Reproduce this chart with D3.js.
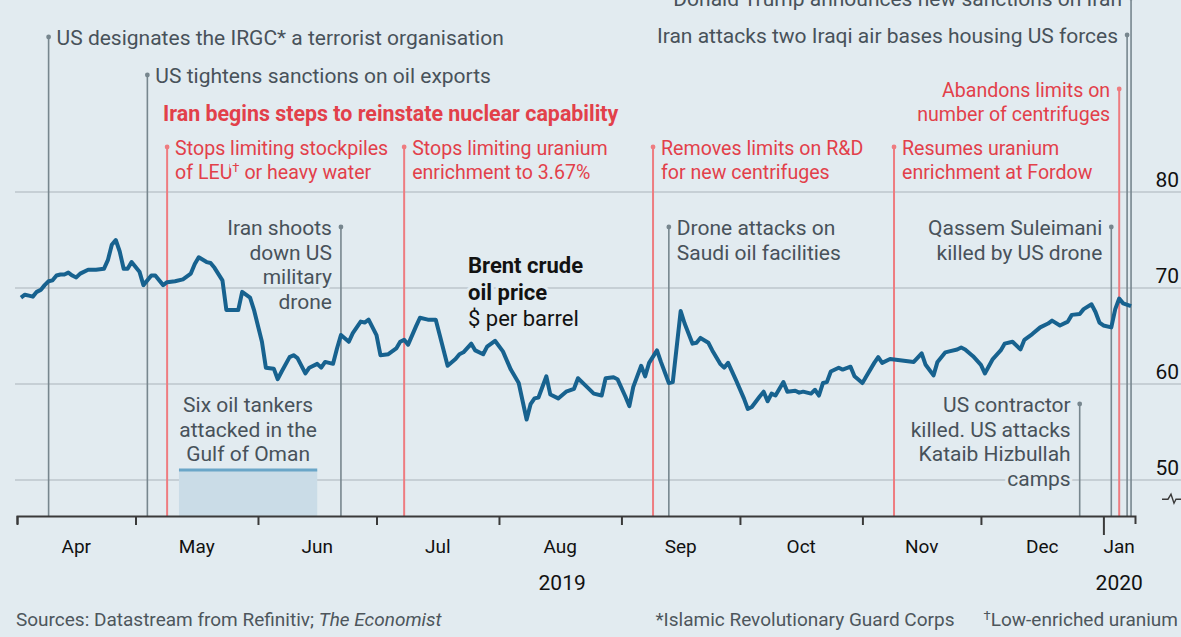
<!DOCTYPE html>
<html>
<head>
<meta charset="utf-8">
<script src="https://cdn.jsdelivr.net/npm/d3@7"></script>
<style>
  body { margin: 0; background: #e2ebf0; }
  svg { display: block; font-family: Roboto, "Noto Sans", sans-serif; }
  .halo { paint-order: stroke; stroke: #e2ebf0; stroke-width: 6px; stroke-linejoin: round; }
</style>
</head>
<body>
<div id="chart"></div>
<script>
// Brent crude oil price, $ per barrel
var dates = [
  "2019-04-02","2019-04-03","2019-04-04","2019-04-05","2019-04-06","2019-04-07","2019-04-08","2019-04-09","2019-04-10",
  "2019-04-11","2019-04-12","2019-04-13","2019-04-14","2019-04-15","2019-04-16","2019-04-17","2019-04-19","2019-04-21",
  "2019-04-23","2019-04-24","2019-04-25","2019-04-26","2019-04-27","2019-04-28","2019-04-29","2019-04-30",
  "2019-05-02","2019-05-03","2019-05-05","2019-05-06","2019-05-08","2019-05-09","2019-05-11","2019-05-13","2019-05-15",
  "2019-05-16","2019-05-17","2019-05-19","2019-05-20","2019-05-21","2019-05-23","2019-05-24","2019-05-25","2019-05-27",
  "2019-05-28","2019-05-30","2019-05-31",
  "2019-06-02","2019-06-03","2019-06-05","2019-06-06","2019-06-07","2019-06-09","2019-06-10","2019-06-11","2019-06-13",
  "2019-06-14","2019-06-16","2019-06-17","2019-06-18","2019-06-20","2019-06-21","2019-06-22","2019-06-24","2019-06-25",
  "2019-06-27","2019-06-28","2019-06-29",
  "2019-07-01","2019-07-02","2019-07-04","2019-07-06","2019-07-07","2019-07-08","2019-07-09","2019-07-11","2019-07-12",
  "2019-07-14","2019-07-16","2019-07-17","2019-07-19","2019-07-21","2019-07-22","2019-07-23","2019-07-25","2019-07-26",
  "2019-07-28","2019-07-29","2019-07-31",
  "2019-08-02","2019-08-04","2019-08-06","2019-08-08","2019-08-09","2019-08-10","2019-08-11","2019-08-13","2019-08-14",
  "2019-08-16","2019-08-18","2019-08-20","2019-08-21","2019-08-23","2019-08-25","2019-08-27","2019-08-28","2019-08-30",
  "2019-08-31",
  "2019-09-02","2019-09-03","2019-09-04","2019-09-06","2019-09-07","2019-09-08","2019-09-10","2019-09-11","2019-09-13",
  "2019-09-14","2019-09-16","2019-09-17","2019-09-19","2019-09-20","2019-09-21","2019-09-23","2019-09-24","2019-09-26",
  "2019-09-27","2019-09-28","2019-09-30",
  "2019-10-02","2019-10-03","2019-10-04","2019-10-06","2019-10-07","2019-10-08","2019-10-09","2019-10-10","2019-10-12",
  "2019-10-13","2019-10-15","2019-10-16","2019-10-17","2019-10-19","2019-10-20","2019-10-21","2019-10-22","2019-10-23",
  "2019-10-24","2019-10-26","2019-10-27","2019-10-29","2019-10-30",
  "2019-11-01","2019-11-02","2019-11-04","2019-11-05","2019-11-06","2019-11-08","2019-11-10","2019-11-12","2019-11-14",
  "2019-11-16","2019-11-17","2019-11-19","2019-11-20","2019-11-22","2019-11-23","2019-11-25","2019-11-26","2019-11-27",
  "2019-11-29",
  "2019-12-01","2019-12-02","2019-12-04","2019-12-06","2019-12-07","2019-12-09","2019-12-11","2019-12-12","2019-12-14",
  "2019-12-16","2019-12-18","2019-12-19","2019-12-21","2019-12-23","2019-12-24","2019-12-26","2019-12-27","2019-12-29",
  "2019-12-30","2019-12-31",
  "2020-01-01","2020-01-03","2020-01-04","2020-01-05","2020-01-06","2020-01-08"
];
var prices = [
  69.0,69.3,69.2,69.1,69.6,69.8,70.3,70.7,70.8,
  71.3,71.4,71.4,71.6,71.3,71.1,71.5,71.9,71.9,
  72.0,72.9,74.5,75.0,73.8,72.0,72.0,72.7,
  71.7,70.3,71.3,71.3,70.3,70.6,70.7,70.9,71.5,
  72.5,73.2,72.7,72.6,72.1,70.8,67.7,67.7,67.7,
  69.6,69.0,67.7,
  64.4,61.7,61.6,60.5,61.3,62.8,63.0,62.7,61.1,
  61.7,62.1,61.7,62.3,62.1,63.7,65.1,64.4,65.3,
  66.5,66.4,66.7,
  65.1,63.0,63.1,63.7,64.4,64.6,64.1,66.0,66.9,
  66.7,66.7,65.1,61.9,62.6,63.1,63.3,64.2,63.5,
  63.1,63.9,64.5,
  63.4,61.5,60.1,56.3,57.9,58.5,58.6,60.8,58.9,
  58.5,59.2,59.5,60.6,59.8,59.0,58.8,60.6,60.7,
  60.5,
  58.7,57.7,59.7,61.9,60.8,62.2,63.5,62.3,60.1,
  60.2,67.6,66.3,64.2,64.3,64.8,64.3,63.5,62.1,
  61.7,62.2,60.4,
  58.5,57.4,57.6,58.7,59.2,58.2,59.0,58.8,60.2,
  59.2,59.3,59.1,59.2,59.0,59.4,58.8,60.1,60.2,
  61.3,61.7,61.5,61.8,60.8,
  60.1,60.8,62.2,62.8,62.2,62.6,62.5,62.4,62.3,
  63.2,62.0,60.9,62.3,63.3,63.4,63.6,63.8,63.6,
  62.9,
  62.0,61.1,62.6,63.5,64.2,64.4,63.6,64.6,65.2,
  65.9,66.3,66.6,66.1,66.5,67.2,67.3,67.8,68.3,
  67.5,66.4,
  66.1,65.9,67.8,68.9,68.4,68.1
];

// events ("nuclear" = Iran's steps back from the nuclear deal)
var eventDates = ["2019-04-09","2019-05-04","2019-05-09","2019-06-22","2019-07-08","2019-09-09","2019-09-13",
                  "2019-11-09","2019-12-26","2020-01-03","2020-01-05","2020-01-07","2020-01-08"];
var eventKinds = ["other","other","nuclear","other","nuclear","nuclear","other",
                  "nuclear","other","other","nuclear","other","other"];
var eventTexts = [
  ["US designates the IRGC* a terrorist organisation"],
  ["US tightens sanctions on oil exports"],
  ["Stops limiting stockpiles", "of LEU† or heavy water"],
  ["Iran shoots", "down US", "military", "drone"],
  ["Stops limiting uranium", "enrichment to 3.67%"],
  ["Removes limits on R&D", "for new centrifuges"],
  ["Drone attacks on", "Saudi oil facilities"],
  ["Resumes uranium", "enrichment at Fordow"],
  ["US contractor", "killed. US attacks", "Kataib Hizbullah", "camps"],
  ["Qassem Suleimani", "killed by US drone"],
  ["Abandons limits on", "number of centrifuges"],
  ["Iran attacks two Iraqi air bases housing US forces"],
  ["Donald Trump announces new sanctions on Iran"]
];
var nuclearHeading = "Iran begins steps to reinstate nuclear capability";
var tankerDates = ["2019-05-12", "2019-06-16"];
var tankerText = ["Six oil tankers", "attacked in the", "Gulf of Oman"];
var yTicks = [50, 60, 70, 80];

// layout of the annotations: marker height and which side the text sits
var eventTop  = [38, 76, 148, 228, 148, 148, 228, 148, 405, 228, 90, 36, -1];
var eventSide = ["r","r","r","l","r","r","r","r","l","l","l","l","l"];

var W = 1181, H = 637, axisY = 516, lineH = 24.5;
var grey = "#48525a", red = "#e2404a", bg = "#e2ebf0";

var parse = d3.timeParse("%Y-%m-%d");
var series = dates.map(function(d, i) { return {date: parse(d), price: prices[i]}; });

var x = d3.scaleTime()
    .domain([parse("2019-04-01"), parse("2020-01-09")])
    .range([17, 1135]);
var y = d3.scaleLinear()
    .domain([46.25, 100])
    .range([axisY, 0]);

var svg = d3.select("#chart").append("svg")
    .attr("width", W)
    .attr("height", H);

svg.append("rect").attr("width", W).attr("height", H).attr("fill", bg);

// gridlines
svg.append("g").selectAll("line")
    .data(yTicks)
    .enter().append("line")
    .attr("x1", 15).attr("x2", W)
    .attr("y1", d => y(d)).attr("y2", d => y(d))
    .attr("stroke", "#bcc6cc")
    .attr("stroke-width", 1.5);

// tanker attacks band
var t0 = x(parse(tankerDates[0])), t1 = x(parse(tankerDates[1]));
svg.append("rect")
    .attr("x", t0).attr("y", 470)
    .attr("width", t1 - t0).attr("height", axisY - 470)
    .attr("fill", "#cadce7");
svg.append("line")
    .attr("x1", t0).attr("x2", t1).attr("y1", 470).attr("y2", 470)
    .attr("stroke", "#6aa6c8").attr("stroke-width", 3);

// text helper, handles the dagger as a superscript
function addLines(g, x0, y0, lines, anchor, color, size, weight) {
    lines.forEach(function(str, i) {
        var t = g.append("text")
            .attr("class", "halo")
            .attr("x", x0)
            .attr("y", y0 + i * lineH)
            .attr("dy", "0.35em")
            .attr("text-anchor", anchor)
            .attr("fill", color)
            .style("font-size", size + "px")
            .style("font-weight", weight || "normal");
        var parts = str.split("†");
        t.append("tspan").text(parts[0]);
        if (parts.length > 1) {
            t.append("tspan").attr("dy", -7).style("font-size", "13px").text("†");
            t.append("tspan").attr("dy", 7).text(parts[1]);
        }
    });
}

var annot = svg.append("g");

// event lines with marker dots
eventDates.forEach(function(d, i) {
    var ex = x(parse(d));
    var col = eventKinds[i] === "nuclear" ? "#ee7c80" : "#77868e";
    annot.append("line")
        .attr("x1", ex).attr("x2", ex)
        .attr("y1", eventTop[i]).attr("y2", axisY)
        .attr("stroke", col)
        .attr("stroke-width", eventKinds[i] === "nuclear" ? 2 : 1.6);
    annot.append("circle")
        .attr("cx", ex).attr("cy", eventTop[i] - 1)
        .attr("r", 2.4)
        .attr("fill", col);
});

eventDates.forEach(function(d, i) {
    var ex = x(parse(d));
    var nuc = eventKinds[i] === "nuclear";
    var col = nuc ? red : grey, size = nuc ? 19.6 : 21;
    if (eventSide[i] === "r") addLines(annot, ex + 8, eventTop[i], eventTexts[i], "start", col, size);
    else addLines(annot, ex - 9, eventTop[i], eventTexts[i], "end", col, size);
});

addLines(annot, 163, 114, [nuclearHeading], "start", red, 21.4, "bold");
addLines(annot, (t0 + t1) / 2, 405, tankerText, "middle", grey, 21);

// series label
var lab = svg.append("g").style("font-size", "22px");
lab.append("text").attr("class", "halo").attr("x", 468).attr("y", 265).attr("dy", "0.35em")
    .attr("fill", "#121212").style("font-weight", "bold").text("Brent crude");
lab.append("text").attr("class", "halo").attr("x", 468).attr("y", 292).attr("dy", "0.35em")
    .attr("fill", "#121212").style("font-weight", "bold").text("oil price");
lab.append("text").attr("class", "halo").attr("x", 468).attr("y", 318).attr("dy", "0.35em")
    .attr("fill", "#121212").text("$ per barrel");

// price line
var line = d3.line()
    .x(d => x(d.date))
    .y(d => y(d.price))
    .curve(d3.curveLinear);

svg.append("path")
    .datum(series)
    .attr("d", line)
    .attr("fill", "none")
    .attr("stroke", "#17628f")
    .attr("stroke-width", 4)
    .attr("stroke-linejoin", "round");

// x axis
var monthStarts = d3.timeMonth.range(x.domain()[0], x.domain()[1]);
var xAxis = d3.axisBottom(x)
    .tickValues(monthStarts)
    .tickFormat("")
    .tickSize(9)
    .tickSizeOuter(8);

var axisG = svg.append("g")
    .attr("transform", `translate(0,${axisY})`)
    .call(xAxis);
axisG.selectAll("path, line").attr("stroke", "#3a3a3a").attr("stroke-width", 2);
axisG.selectAll(".tick line")
    .filter(d => d.getMonth() === 0)
    .attr("y2", 19);

var fmt = d3.timeFormat("%b");
svg.append("g").selectAll("text")
    .data(monthStarts)
    .enter().append("text")
    .attr("x", function(d) {
        var end = d3.min([d3.timeMonth.offset(d, 1), x.domain()[1]]);
        return (x(d) + x(end)) / 2;
    })
    .attr("y", 553)
    .attr("text-anchor", "middle")
    .attr("fill", "#111")
    .style("font-size", "19px")
    .text(d => fmt(d));

svg.append("text").attr("x", x(parse("2019-08-17"))).attr("y", 590)
    .attr("text-anchor", "middle").attr("fill", "#111").style("font-size", "21px").text("2019");
svg.append("text").attr("x", x(parse("2020-01-05"))).attr("y", 590)
    .attr("text-anchor", "middle").attr("fill", "#111").style("font-size", "21px").text("2020");

// y axis labels on the right
svg.append("g").selectAll("text")
    .data(yTicks)
    .enter().append("text")
    .attr("x", 1179)
    .attr("y", d => y(d) - 5)
    .attr("text-anchor", "end")
    .attr("fill", "#111")
    .style("font-size", "21px")
    .text(d => d);

// broken axis mark
var by = y(48);
svg.append("path")
    .attr("d", `M1162,${by} h6 l3,-5 l3,9 l2,-4 h5`)
    .attr("fill", "none")
    .attr("stroke", "#3a3a3a")
    .attr("stroke-width", 1.4);

// footer
var foot = svg.append("g").style("font-size", "19px").attr("fill", "#4d565c");
var src = foot.append("text").attr("x", 16).attr("y", 619).attr("dy", "0.35em");
src.append("tspan").text("Sources: Datastream from Refinitiv; ");
src.append("tspan").style("font-style", "italic").text("The Economist");

var note = foot.append("text").attr("x", 1178).attr("y", 619).attr("dy", "0.35em").attr("text-anchor", "end");
note.append("tspan").text("*Islamic Revolutionary Guard Corps\u2003\u2002");
note.append("tspan").attr("dy", -6).style("font-size", "13px").text("†");
note.append("tspan").attr("dy", 6).text("Low-enriched uranium");
</script>
</body>
</html>
